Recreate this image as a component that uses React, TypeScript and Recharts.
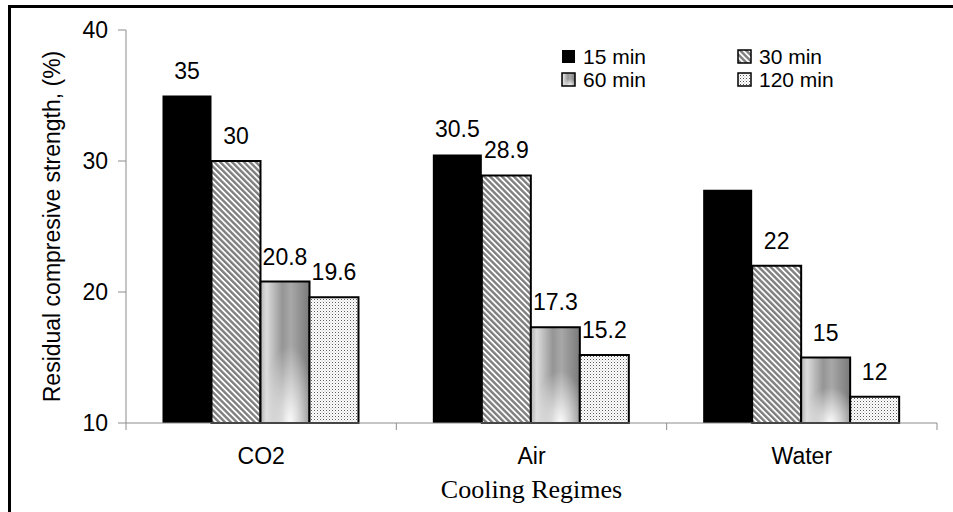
import React from 'react';
import { BarChart, Bar, XAxis, YAxis, LabelList, Legend } from 'recharts';

const categories = ['CO2', 'Air', 'Water'];
const min15 = [35, 30.5, 27.8];
const min30 = [30, 28.9, 22];
const min60 = [20.8, 17.3, 15];
const min120 = [19.6, 15.2, 12];
const labels15 = ['35', '30.5', ''];
const labels30 = ['30', '28.9', '22'];
const labels60 = ['20.8', '17.3', '15'];
const labels120 = ['19.6', '15.2', '12'];
const yTicks = [10, 20, 30, 40];
const seriesNames = ['15 min', '30 min', '60 min', '120 min'];
const seriesFills = ['#000000', 'url(#hatch30)', 'url(#grad60)', 'url(#dots120)'];

const data = categories.map((c, i) => ({
  cat: c,
  m15: min15[i],
  m30: min30[i],
  m60: min60[i],
  m120: min120[i],
  l15: labels15[i],
  l30: labels30[i],
  l60: labels60[i],
  l120: labels120[i],
}));

const SANS = '"Liberation Sans", Arial, sans-serif';
const SERIF = '"Liberation Serif", "Times New Roman", serif';
const AXIS = '#8c8c8c';
const W = 945;
const H = 507;
const M = { top: 25, right: 16, bottom: 0, left: 18 };
const YW = 100;
const PLOT_W = W - M.left - M.right - YW;

const XTick = (props: any) => {
  const { x, y, payload, index } = props;
  const band = PLOT_W / categories.length;
  const axisY = y - 25;
  const x0 = x - band / 2;
  const x1 = x + band / 2;
  return (
    <g>
      <line x1={x0} y1={axisY} x2={x0} y2={axisY + 7} stroke={AXIS} strokeWidth={1} />
      {index === categories.length - 1 && (
        <line x1={x1} y1={axisY} x2={x1} y2={axisY + 7} stroke={AXIS} strokeWidth={1} />
      )}
      <text x={x} y={y} dy="0.71em" textAnchor="middle" fontFamily={SANS} fontSize={23} fill="#000">
        {payload.value}
      </text>
    </g>
  );
};

const Swatch = ({ fill, border }: { fill: string; border: boolean }) => (
  <svg width={15} height={15} style={{ marginRight: 7, flex: 'none' }}>
    <rect x={1} y={1} width={13} height={13} fill={fill} stroke={border ? '#000' : 'none'} strokeWidth={1.5} />
  </svg>
);

const LegendContent = () => (
  <div
    style={{
      display: 'grid',
      gridTemplateColumns: '176px 176px',
      fontFamily: SANS,
      fontSize: 21,
      lineHeight: '23px',
      color: '#000',
    }}
  >
    {seriesNames.map((n, i) => (
      <div key={n} style={{ display: 'flex', alignItems: 'center', height: 23 }}>
        <Swatch fill={seriesFills[i]} border={i !== 0} />
        <span>{n}</span>
      </div>
    ))}
  </div>
);

const labelStyle = { fontFamily: SANS, fontSize: 23, fill: '#000' };

export default function App() {
  return (
    <div style={{ position: 'absolute', left: 8, top: 5, width: W, height: H, overflow: 'hidden' }}>
      <style>{'html,body{margin:0;padding:0;overflow:hidden;background:#fff}'}</style>
      <BarChart width={W} height={H} data={data} margin={M} barCategoryGap="13.5%" barGap={0}>
        <defs>
          <pattern id="hatch30" width="4.2" height="4.2" patternUnits="userSpaceOnUse" patternTransform="rotate(-45)">
            <rect width="4.2" height="4.2" fill="#ffffff" />
            <rect width="2.4" height="4.2" fill="#7f7f7f" />
          </pattern>
          <linearGradient id="lin60" x1="0" y1="0" x2="1" y2="0">
            <stop offset="0" stopColor="#b4b4b4" />
            <stop offset="0.12" stopColor="#dcdcdc" />
            <stop offset="0.45" stopColor="#959595" />
            <stop offset="0.62" stopColor="#a8a8a8" />
            <stop offset="1" stopColor="#7a7a7a" />
          </linearGradient>
          <radialGradient id="rad60" cx="0.6" cy="1" r="0.55">
            <stop offset="0" stopColor="#ffffff" stopOpacity="0.95" />
            <stop offset="1" stopColor="#ffffff" stopOpacity="0" />
          </radialGradient>
          <pattern id="grad60" width="1" height="1" patternUnits="objectBoundingBox" patternContentUnits="objectBoundingBox">
            <rect x="0" y="0" width="1" height="1" fill="url(#lin60)" />
            <rect x="0" y="0" width="1" height="1" fill="url(#rad60)" />
          </pattern>
          <pattern id="dots120" width="3" height="3" patternUnits="userSpaceOnUse">
            <rect width="3" height="3" fill="#ffffff" />
            <rect x="0" y="0" width="1" height="1" fill="#5a5a5a" />
            <rect x="1.5" y="1.5" width="1" height="1" fill="#b0b0b0" />
          </pattern>
        </defs>
        <XAxis
          dataKey="cat"
          tickLine={false}
          tickSize={0}
          tickMargin={25}
          height={H - 418 - M.bottom}
          axisLine={{ stroke: AXIS, strokeWidth: 1 }}
          tick={(p: any) => <XTick {...p} />}
          interval={0}
          label={{
            content: (p: any) => {
              const vb = p.viewBox || {};
              return (
                <text x={vb.x + vb.width / 2} y={493} textAnchor="middle" fontFamily={SERIF} fontSize={26} fill="#000">
                  Cooling Regimes
                </text>
              );
            },
          }}
        />
        <YAxis
          width={YW}
          domain={[10, 40]}
          ticks={yTicks}
          tickSize={8}
          tickMargin={10}
          interval={0}
          axisLine={{ stroke: AXIS, strokeWidth: 1 }}
          tickLine={{ stroke: AXIS, strokeWidth: 1 }}
          tick={{ fontFamily: SANS, fontSize: 23, fill: '#000' }}
          label={{
            content: (p: any) => {
              const vb = p.viewBox || {};
              const cx = vb.x + 26;
              const cy = vb.y + vb.height / 2;
              return (
                <text
                  x={cx}
                  y={cy}
                  transform={`rotate(-90, ${cx}, ${cy})`}
                  textAnchor="middle"
                  dominantBaseline="central"
                  fontFamily={SANS}
                  fontSize={23}
                  fill="#000"
                >
                  Residual compresive strength, (%)
                </text>
              );
            },
          }}
        />
        <Legend
          layout="horizontal"
          verticalAlign="middle"
          align="center"
          wrapperStyle={{ left: 553, top: 40, width: 380, height: 46 }}
          content={() => <LegendContent />}
        />
        <Bar dataKey="m15" name={seriesNames[0]} fill={seriesFills[0]} isAnimationActive={false}>
          <LabelList dataKey="l15" position="top" offset={17} style={labelStyle} />
        </Bar>
        <Bar dataKey="m30" name={seriesNames[1]} fill={seriesFills[1]} stroke="#000" strokeWidth={2} isAnimationActive={false}>
          <LabelList dataKey="l30" position="top" offset={17} style={labelStyle} />
        </Bar>
        <Bar dataKey="m60" name={seriesNames[2]} fill={seriesFills[2]} stroke="#000" strokeWidth={2} isAnimationActive={false}>
          <LabelList dataKey="l60" position="top" offset={17} style={labelStyle} />
        </Bar>
        <Bar dataKey="m120" name={seriesNames[3]} fill={seriesFills[3]} stroke="#000" strokeWidth={2} isAnimationActive={false}>
          <LabelList dataKey="l120" position="top" offset={17} style={labelStyle} />
        </Bar>
      </BarChart>
      <div style={{ position: 'absolute', left: 0, top: 0, width: W, height: 3, background: '#000', pointerEvents: 'none' }} />
      <div style={{ position: 'absolute', left: 0, top: 0, width: 3, height: H, background: '#000', pointerEvents: 'none' }} />
    </div>
  );
}
